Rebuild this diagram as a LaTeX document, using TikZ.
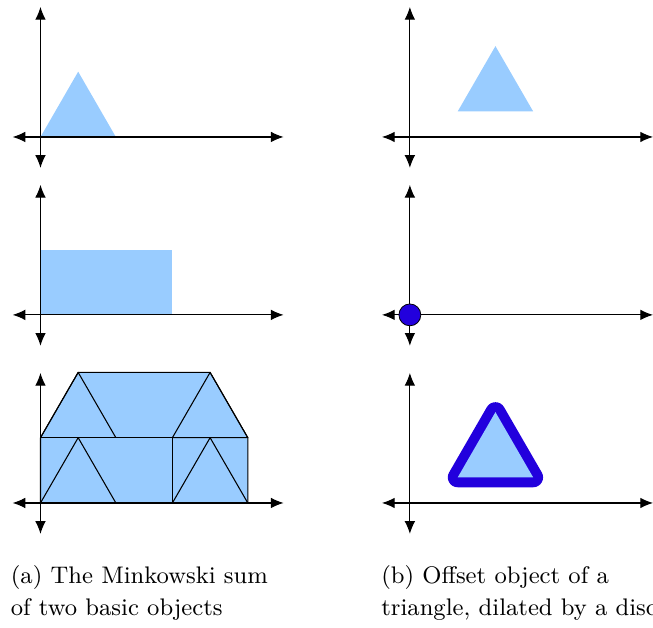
\documentclass[tikz,border=0pt]{standalone}
\usetikzlibrary{arrows.meta}
\definecolor{shapeblue}{RGB}{153,204,255}
\definecolor{discblue}{RGB}{34,0,221}

\begin{document}
\begin{tikzpicture}[x=0.5cm,y=0.5cm,>={Latex[length=4.8pt,width=4pt]},line join=round]
\useasboundingbox (-1.074,-13.02) rectangle (16.25,3.634);
\begin{scope}
\fill[shapeblue] (0,0) -- (1,1.732) -- (2,0) -- cycle;
\draw[<->,line width=0.4pt] (-0.74,0) -- (6.45,0);
\draw[<->,line width=0.4pt] (0,-0.82) -- (0,3.45);
\end{scope}
\begin{scope}[shift={(0,-4.72)}]
\fill[shapeblue] (0,0) rectangle (3.5,1.732);
\draw[<->,line width=0.4pt] (-0.74,0) -- (6.45,0);
\draw[<->,line width=0.4pt] (0,-0.82) -- (0,3.45);
\end{scope}
\begin{scope}[shift={(0,-9.71)}]
\fill[shapeblue] (0,0) -- (5.5,0) -- (5.5,1.732) -- (4.5,3.464) -- (1,3.464) -- (0,1.732) -- cycle;
\draw[line width=0.4pt] (0,0) -- (5.5,0) -- (5.5,1.732) -- (4.5,3.464) -- (1,3.464) -- (0,1.732) -- cycle;
\draw[line width=0.4pt] (0,0) rectangle (3.5,1.732);
\draw[line width=0.4pt] (0,0) -- (1,1.732) -- (2,0);
\draw[line width=0.4pt] (3.5,0) -- (4.5,1.732) -- (5.5,0);
\draw[line width=0.4pt] (0,1.732) -- (1,3.464) -- (2,1.732);
\draw[line width=0.4pt] (3.5,1.732) -- (4.5,3.464) -- (5.5,1.732) -- cycle;
\draw[<->,line width=0.4pt] (-0.74,0) -- (6.45,0);
\draw[<->,line width=0.4pt] (0,-0.82) -- (0,3.45);
\end{scope}
\begin{scope}[shift={(9.80,0)}]
\fill[shapeblue] (1.27,0.68) -- (2.27,2.41) -- (3.27,0.68) -- cycle;
\draw[<->,line width=0.4pt] (-0.74,0) -- (6.45,0);
\draw[<->,line width=0.4pt] (0,-0.82) -- (0,3.45);
\end{scope}
\begin{scope}[shift={(9.80,-4.72)}]
\draw[<->,line width=0.4pt] (-0.74,0) -- (6.45,0);
\draw[<->,line width=0.4pt] (0,-0.82) -- (0,3.45);
\filldraw[fill=discblue,draw=black,line width=0.3pt] (0,0) circle (0.29);
\end{scope}
\begin{scope}[shift={(9.80,-9.71)}]
\draw[discblue,line width=7.5pt] (1.27,0.68) -- (2.27,2.41) -- (3.27,0.68) -- cycle;
\fill[shapeblue] (1.27,0.68) -- (2.27,2.41) -- (3.27,0.68) -- cycle;
\draw[<->,line width=0.4pt] (-0.74,0) -- (6.45,0);
\draw[<->,line width=0.4pt] (0,-0.82) -- (0,3.45);
\end{scope}
\node[anchor=base west,inner sep=0pt,font=\fontsize{9.05}{12}\selectfont] (capA1) at (-0.80,-11.84) {(a) The Minkowski sum};
\node[anchor=base west,inner sep=0pt,font=\fontsize{9.05}{12}\selectfont] (capA2) at (-0.80,-12.69) {of two basic objects};
\node[anchor=base west,inner sep=0pt,font=\fontsize{9.05}{12}\selectfont] (capB1) at (9.03,-11.84) {(b) Offset object of a};
\node[anchor=base west,inner sep=0pt,font=\fontsize{9.05}{12}\selectfont] (capB2) at (9.03,-12.69) {triangle, dilated by a disc};
\end{tikzpicture}
\end{document}
